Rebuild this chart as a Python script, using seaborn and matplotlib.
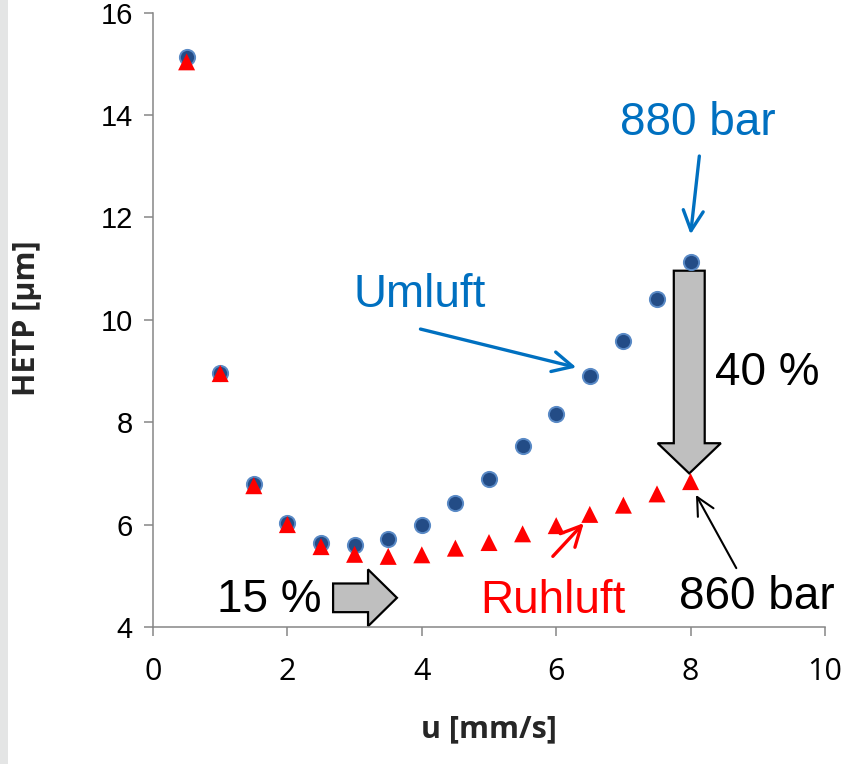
import numpy as np
import pandas as pd
import matplotlib
matplotlib.use("Agg")
import matplotlib.pyplot as plt
import seaborn as sns
from matplotlib.patches import FancyArrow, Rectangle

# flow velocity [mm/s]
u = [0.5, 1.0, 1.5, 2.0, 2.5, 3.0, 3.5, 4.0, 4.5, 5.0, 5.5, 6.0, 6.5, 7.0, 7.5, 8.0]
# HETP [um], circulating air oven vs. still air oven
hetp_umluft = [15.13, 8.96, 6.79, 6.03, 5.64, 5.60, 5.72, 6.00, 6.43, 6.90, 7.53, 8.16, 8.91, 9.59, 10.40, 11.13]
hetp_ruhluft = [15.04, 8.95, 6.76, 6.00, 5.57, 5.42, 5.38, 5.41, 5.54, 5.65, 5.82, 5.98, 6.20, 6.38, 6.60, 6.84]
series = ["Umluft", "Ruhluft"]

xticks = [0, 2, 4, 6, 8, 10]
yticks = [4, 6, 8, 10, 12, 14, 16]

df = pd.DataFrame({
    "u": u + u,
    "HETP": hetp_umluft + hetp_ruhluft,
    "Serie": [series[0]] * len(u) + [series[1]] * len(u),
})

sns.set_style("ticks")
plt.rcParams["font.family"] = ["Liberation Sans", "DejaVu Sans"]

blue_txt = "#0070c0"
grey = "#868686"

fig = plt.figure(figsize=(8.66, 7.64), dpi=100)
fig.patches.append(Rectangle((0, 0), 8 / 866, 1, transform=fig.transFigure,
                             facecolor="#e4e5e5", edgecolor="none", zorder=0))
ax = fig.add_axes([153 / 866, 1 - 627 / 764, (825 - 153) / 866, (627 - 12.7) / 764])

sns.scatterplot(data=df[df.Serie == "Umluft"], x="u", y="HETP", ax=ax,
                marker="o", s=120, color="#234c86", edgecolor="#5a8ac6",
                linewidth=1.4, legend=False, zorder=3)
sns.scatterplot(data=df[df.Serie == "Ruhluft"], x="u", y="HETP", ax=ax,
                marker="^", s=150, color="#ff0000", edgecolor="none",
                linewidth=0, legend=False, zorder=4)

ax.set_xlim(0, 10)
ax.set_ylim(4, 16)
ax.set_xticks(xticks)
ax.set_yticks(yticks)
sns.despine(ax=ax)
for side in ["left", "bottom"]:
    ax.spines[side].set_color(grey)
    ax.spines[side].set_linewidth(1.1)
ax.tick_params(axis="both", direction="out", length=6.5, width=1.1, color=grey,
               labelcolor="black")
ax.tick_params(axis="y", pad=8, labelsize=21)
ax.tick_params(axis="x", pad=15, labelsize=22)
for lab in ax.get_xticklabels():
    lab.set_family("Open Sans")

ax.set_xlabel("u [mm/s]", fontsize=22, fontweight="bold", family="Open Sans", va="center")
ax.set_ylabel("HETP [µm]", fontsize=22, fontweight="bold", family="Open Sans", va="center")
ax.xaxis.set_label_coords(0.5, (627 - 729) / 614.3)
ax.yaxis.set_label_coords((27.5 - 153) / 672, 0.503)

# text annotations
fs = 33
ax.text(8.10, 13.61, "880 bar", color=blue_txt, fontsize=fs, ha="center", va="baseline")
ax.text(3.97, 10.25, "Umluft", color=blue_txt, fontsize=fs, ha="center", va="baseline")
ax.text(8.37, 8.72, "40 %", color="black", fontsize=fs, ha="left", va="baseline")
ax.text(0.95, 4.29, "15 %", color="black", fontsize=fs, ha="left", va="baseline")
ax.text(5.95, 4.265, "Ruhluft", color="#ff0000", fontsize=fs, ha="center", va="baseline")
ax.text(7.83, 4.36, "860 bar", color="black", fontsize=fs, ha="left", va="baseline",
        clip_on=False)

# thin pointer arrows
def pointer(start, end, color, lw, ms=36):
    ax.annotate("", xy=end, xytext=start,
                arrowprops=dict(arrowstyle="->", color=color, lw=lw,
                                mutation_scale=ms, shrinkA=0, shrinkB=0))

pointer((8.13, 13.20), (8.00, 11.67), blue_txt, 2.4)
pointer((3.98, 9.82), (6.30, 9.07), blue_txt, 2.4)
pointer((5.95, 5.38), (6.41, 6.03), "#ff0000", 2.4)
pointer((8.68, 5.15), (8.08, 6.58), "black", 1.5, 32)

# grey block arrows
ax.add_patch(FancyArrow(7.98, 10.96, 0, -3.96, width=0.46, head_width=0.94,
                        head_length=0.59, length_includes_head=True,
                        facecolor="#bfbfbf", edgecolor="black", linewidth=1.6, zorder=2))
ax.add_patch(FancyArrow(2.68, 4.57, 0.95, 0, width=0.56, head_width=1.11,
                        head_length=0.43, length_includes_head=True,
                        facecolor="#bfbfbf", edgecolor="black", linewidth=1.6, zorder=2,
                        clip_on=False))

fig.savefig("out.png", dpi=100)
